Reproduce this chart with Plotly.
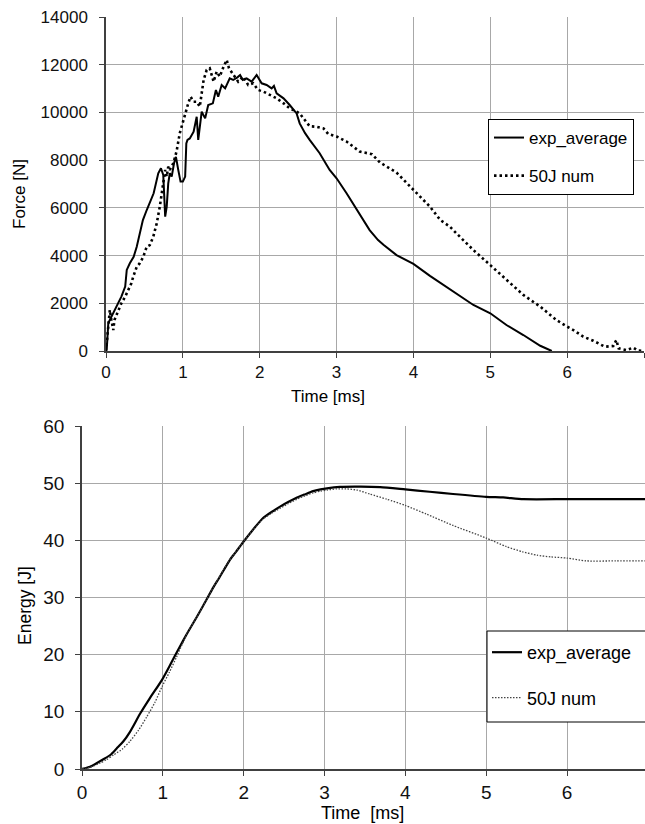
import plotly.graph_objects as go

# ---------------- Force data ----------------
exp_force_t = [0, 0.01, 0.03, 0.07, 0.14, 0.20, 0.25, 0.27, 0.31, 0.36, 0.40, 0.44, 0.48, 0.53, 0.62,
               0.68, 0.715, 0.745, 0.77, 0.79, 0.81, 0.83, 0.855, 0.885, 0.91, 0.94, 0.97, 1.00, 1.03,
               1.045, 1.06, 1.09, 1.14, 1.18, 1.20, 1.245, 1.29, 1.33, 1.39, 1.43, 1.46, 1.505, 1.55,
               1.61, 1.655, 1.71, 1.745, 1.78, 1.83, 1.895, 1.96, 2.025, 2.09, 2.155, 2.185, 2.22,
               2.31, 2.39, 2.48, 2.52, 2.59, 2.65, 2.72, 2.78, 2.91, 3.0, 3.13, 3.26, 3.37, 3.43,
               3.54, 3.61, 3.78, 3.9, 4.0, 4.215, 4.43, 4.56, 4.69, 4.78, 5.0, 5.21, 5.43, 5.65, 5.8]
exp_force = [0, 100, 1170, 1440, 1860, 2280, 2700, 3400, 3680, 3950, 4370, 4950, 5490, 5910, 6610,
             7450, 7660, 7380, 5630, 6050, 7030, 7450, 7310, 7870, 8140, 7590, 7100, 7100, 7310,
             8700, 8850, 8910, 9190, 9820, 8850, 10030, 9750, 10310, 10380, 10940, 10660, 11150, 11010,
             11430, 11360, 11470, 11570, 11360, 11430, 11290, 11570, 11220, 11150, 11010, 11110, 10800,
             10590, 10310, 9960, 9540, 9130, 8850, 8560, 8290, 7590, 7240, 6610, 5950, 5350, 5070,
             4650, 4450, 4020, 3800, 3650, 3150, 2680, 2420, 2100, 1930, 1580, 1090, 670, 220, 0]

num_force_t = [0, 0.03, 0.05, 0.07, 0.095, 0.11, 0.16, 0.20, 0.25, 0.29, 0.33, 0.355, 0.40, 0.44,
               0.485, 0.53, 0.57, 0.615, 0.66, 0.70, 0.725, 0.745, 0.77, 0.79, 0.81, 0.83, 0.875,
               0.90, 0.92, 0.96, 1.0, 1.03, 1.07, 1.10, 1.14, 1.18, 1.22, 1.27, 1.31, 1.35, 1.40,
               1.44, 1.48, 1.53, 1.57, 1.60, 1.655, 1.72, 1.785, 1.85, 1.915, 1.98, 2.05, 2.13,
               2.22, 2.31, 2.39, 2.48, 2.52, 2.57, 2.65, 2.74, 2.83, 2.89, 3.0, 3.13, 3.30, 3.46,
               3.565, 3.78, 4.0, 4.215, 4.35, 4.475, 4.56, 4.78, 5.0, 5.21, 5.43, 5.65, 5.86, 6.0,
               6.08, 6.21, 6.34, 6.49, 6.6, 6.64, 6.67, 6.77, 6.86, 6.92, 7.0]
num_force = [0, 880, 1720, 1300, 880, 1300, 1720, 2000, 2280, 2560, 2840, 3120, 3530, 3680,
             3950, 4370, 4440, 4790, 5350, 6050, 6610, 7170, 7590, 7310, 7730, 7590, 7870,
             8140, 8400, 9130, 9610, 9890, 10380, 10660, 10450, 10450, 10240, 11360, 11780, 11850, 11290,
             11710, 11500, 11920, 12200, 11850, 11570, 11290, 11500, 11150, 11220, 10940, 10870, 10730,
             10590, 10380, 10170, 10030, 9960, 9750, 9420, 9400, 9330, 9100, 8990, 8780, 8360, 8250,
             7900, 7480, 6750, 6050, 5490, 5210, 4930, 4230, 3600, 2980, 2350, 1860, 1300, 1020,
             880, 600, 430, 180, 210, 460, 110, 40, 140, 20, 0]

# ---------------- Energy data ----------------
exp_energy_t = [0, 0.1, 0.18, 0.264, 0.35, 0.429, 0.51, 0.594, 0.72, 0.84, 0.99, 1.09, 1.21, 1.3,
                1.42, 1.5, 1.63, 1.7, 1.83, 1.9, 2.0, 2.1, 2.24, 2.35, 2.45, 2.55, 2.66, 2.75,
                2.86, 2.95, 3.03, 3.19, 3.45, 3.69, 4.0, 4.3, 4.59, 5.0, 5.21, 5.46, 6.0, 6.5, 6.965]
exp_energy = [0, 0.4, 1.0, 1.7, 2.45, 3.6, 4.8, 6.5, 9.7, 12.4, 15.6, 18.2, 21.4, 23.7,
              26.6, 28.6, 31.9, 33.5, 36.6, 37.9, 39.8, 41.6, 43.9, 45.0, 45.9, 46.7, 47.5, 48.0,
              48.6, 48.9, 49.1, 49.35, 49.4, 49.3, 48.9, 48.5, 48.1, 47.6, 47.5, 47.2, 47.2, 47.2, 47.2]

num_energy_t = [0, 0.1, 0.22, 0.3, 0.39, 0.5, 0.59, 0.7, 0.80, 0.9, 0.99, 1.08, 1.17, 1.30, 1.42,
                1.5, 1.63, 1.8, 2.0, 2.12, 2.24, 2.35, 2.45, 2.55, 2.66, 2.76, 2.86, 2.95, 3.03,
                3.15, 3.27, 3.4, 3.56, 3.77, 4.0, 4.26, 4.59, 5.0, 5.25, 5.45, 5.63, 5.8, 6.0,
                6.24, 6.6, 6.965]
num_energy = [0, 0.3, 1.0, 1.6, 2.45, 3.5, 4.8, 6.8, 9.1, 11.6, 14.4, 16.9, 19.6, 23.7, 26.6,
              28.6, 31.9, 36.0, 39.8, 41.9, 43.7, 44.8, 45.6, 46.4, 47.2, 47.8, 48.3, 48.6, 48.8,
              49.0, 49.0, 48.8, 48.1, 47.2, 46.1, 44.6, 42.6, 40.4, 38.9, 38.0, 37.4, 37.1, 36.9,
              36.4, 36.4, 36.4]

series_names = ["exp_average", "50J num"]

W, H = 645, 824
FONT = "Liberation Sans, Arial, sans-serif"


def px_x(p):
    return p / W


def px_y(p):
    return 1 - p / H


fig = go.Figure()

fig.add_trace(go.Scatter(x=exp_force_t, y=exp_force, mode="lines", name=series_names[0],
                         line=dict(color="black", width=2), xaxis="x", yaxis="y",
                         legend="legend", legendgroup="a"))
fig.add_trace(go.Scatter(x=num_force_t, y=num_force, mode="lines", name=series_names[1],
                         line=dict(color="black", width=2.6, dash="2.5px,3px"), xaxis="x", yaxis="y",
                         legend="legend", legendgroup="b"))
fig.add_trace(go.Scatter(x=exp_energy_t, y=exp_energy, mode="lines", name=series_names[0],
                         line=dict(color="black", width=2.2, shape="spline", smoothing=0.6),
                         xaxis="x2", yaxis="y2", legend="legend2", legendgroup="c"))
fig.add_trace(go.Scatter(x=num_energy_t, y=num_energy, mode="lines", name=series_names[1],
                         line=dict(color="#444444", width=1.3, dash="1.5px,1.5px", shape="spline",
                                   smoothing=0.6),
                         xaxis="x2", yaxis="y2", legend="legend2", legendgroup="d"))

grid = "#a8a8a8"
axline = "#404040"


def axis_style(size, standoff):
    return dict(showgrid=True, gridcolor=grid, gridwidth=1.2, showline=True, linecolor=axline,
                linewidth=1.5, ticks="outside", ticklen=5, tickcolor=axline, zeroline=False,
                ticklabelstandoff=standoff, tickformat="d",
                tickfont=dict(family=FONT, size=size, color="#111111"))


fig.update_layout(
    width=W, height=H,
    margin=dict(l=0, r=0, t=0, b=0, autoexpand=False),
    paper_bgcolor="white", plot_bgcolor="white",
    font=dict(family=FONT, color="black"),
    xaxis=dict(domain=[px_x(106), px_x(644)], range=[0, 7], dtick=1, anchor="y", **axis_style(17, 0)),
    yaxis=dict(domain=[px_y(351), px_y(17)], range=[0, 14000], dtick=2000, anchor="x", **axis_style(17, 8)),
    xaxis2=dict(domain=[px_x(82), 1.0], range=[0, 6.965], dtick=1, anchor="y2", **axis_style(19, 0)),
    yaxis2=dict(domain=[px_y(769), px_y(426)], range=[0, 60], dtick=10, anchor="x2", **axis_style(19, 7)),
    legend=dict(x=px_x(488), y=px_y(119), xanchor="left", yanchor="top",
                bordercolor="black", borderwidth=1, bgcolor="white",
                font=dict(family=FONT, size=17, color="black"), tracegroupgap=13),
    legend2=dict(x=px_x(487), y=px_y(634), xanchor="left", yanchor="top",
                 borderwidth=0, bgcolor="rgba(0,0,0,0)",
                 font=dict(family=FONT, size=18, color="black"), tracegroupgap=19),
    shapes=[
        dict(type="rect", xref="paper", yref="paper", x0=px_x(487), x1=px_x(660),
             y0=px_y(722), y1=px_y(631), line=dict(color="black", width=1), fillcolor="white",
             layer="above"),
    ],
    annotations=[
        dict(text="Time [ms]", x=px_x(328), y=px_y(397), xref="paper", yref="paper",
             xanchor="center", yanchor="middle",
             showarrow=False, font=dict(family=FONT, size=17, color="black")),
        dict(text="Force [N]", x=px_x(19), y=px_y(194), xref="paper", yref="paper",
             xanchor="center", yanchor="middle",
             showarrow=False, textangle=-90, font=dict(family=FONT, size=17, color="black")),
        dict(text="Time\u00a0 [ms]", x=px_x(362), y=px_y(813), xref="paper", yref="paper",
             xanchor="center", yanchor="middle",
             showarrow=False, font=dict(family=FONT, size=18, color="black")),
        dict(text="Energy [J]", x=px_x(25), y=px_y(606), xref="paper", yref="paper",
             xanchor="center", yanchor="middle",
             showarrow=False, textangle=-90, font=dict(family=FONT, size=17.5, color="black")),
    ],
)

fig.write_html("out.html", config={"displayModeBar": False},
               post_script="document.body.style.margin='0px';document.body.style.overflow='hidden';")
